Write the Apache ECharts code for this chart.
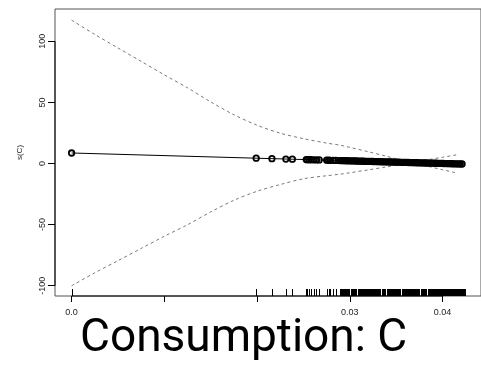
<!DOCTYPE html>
<html>
<head>
<meta charset="utf-8">
<script src="https://cdn.jsdelivr.net/npm/echarts@6/dist/echarts.min.js"></script>
<style>
  html, body { margin: 0; padding: 0; background: #fff; }
  #chart { width: 481px; height: 365px; }
</style>
</head>
<body>
<div id="chart"></div>
<script>
// Axis ranges and ticks
const xMin = -0.00179, xMax = 0.04414;
const yMin = -108.4, yMax = 126.4;
const xTickValues = [0, 0.01, 0.02, 0.03, 0.04];
const xTickLabels = ['0.0', '', '', '0.03', '0.04'];
const yTickValues = [-100, -50, 0, 50, 100];
const yTickLabels = ['-100', '-50', '0', '50', '100'];

// Fitted smooth s(C) evaluated at the observations
const pointX = [0.0000, 0.0199, 0.0216, 0.0231, 0.0238, 0.0253, 0.0254, 0.0256, 0.0258, 0.0261,
  0.0264, 0.0267, 0.0275, 0.0277, 0.0279, 0.0282, 0.0285,
  0.0289, 0.0291, 0.0293, 0.0295, 0.0297, 0.0299, 0.0301, 0.0303, 0.0305, 0.0307,
  0.0309, 0.0311, 0.0313, 0.0315, 0.0317, 0.0319, 0.0321, 0.0323, 0.0325, 0.0327,
  0.0329, 0.0331, 0.0333, 0.0335, 0.0337, 0.0339, 0.0341, 0.0343, 0.0345, 0.0347,
  0.0349, 0.0351, 0.0353, 0.0355, 0.0357, 0.0359, 0.0361, 0.0363, 0.0365, 0.0367,
  0.0369, 0.0371, 0.0373, 0.0375, 0.0377, 0.0379, 0.0381, 0.0383, 0.0385, 0.0387,
  0.0389, 0.0391, 0.0393, 0.0395, 0.0397, 0.0399, 0.0401, 0.0403, 0.0405, 0.0407,
  0.0409, 0.0411, 0.0413, 0.0415, 0.0417, 0.0419, 0.0421];
const pointY = [8.60, 4.34, 3.98, 3.66, 3.51, 3.19, 3.16, 3.12, 3.08, 3.01,
  2.95, 2.89, 2.72, 2.67, 2.63, 2.57, 2.50,
  2.42, 2.37, 2.33, 2.29, 2.24, 2.20, 2.16, 2.12, 2.07, 2.03,
  1.99, 1.94, 1.90, 1.86, 1.82, 1.77, 1.73, 1.69, 1.65, 1.60,
  1.56, 1.52, 1.47, 1.43, 1.39, 1.35, 1.30, 1.26, 1.22, 1.17,
  1.13, 1.09, 1.05, 1.00, 0.96, 0.92, 0.87, 0.83, 0.79, 0.75,
  0.70, 0.66, 0.62, 0.57, 0.53, 0.49, 0.45, 0.40, 0.36, 0.32,
  0.28, 0.23, 0.19, 0.15, 0.10, 0.06, 0.02, -0.02, -0.07, -0.11,
  -0.15, -0.20, -0.24, -0.28, -0.32, -0.37, -0.41];

// Confidence band (fit +/- 2 se)
const bandX = [0, 0.0025, 0.005, 0.0075, 0.01, 0.0125, 0.015, 0.0175, 0.02, 0.0225,
  0.025, 0.0275, 0.029, 0.03, 0.032, 0.034, 0.036, 0.038, 0.040, 0.0415];
const bandUpper = [117.3, 105.6, 94.5, 83.5, 72.5, 61.9, 50.4, 39.9, 31.3, 24.8,
  20.3, 16.7, 14.9, 13.2, 9.6, 5.8, 1.9, -1.6, -5.1, -7.7];
const bandLower = [-100.1, -89.4, -79.5, -69.5, -59.5, -50.1, -39.6, -30.1, -22.7, -17.2,
  -12.5, -10.0, -8.7, -7.6, -5.2, -2.7, -0.1, 2.6, 5.1, 7.1];

// Observed consumption values (rug)
const rugX = [0.0000, 0.0199, 0.0216, 0.0231, 0.0238, 0.0253, 0.0254, 0.0256, 0.0258, 0.0261,
  0.0264, 0.0267, 0.0275, 0.0277, 0.0279, 0.0282, 0.0285,
  0.0289, 0.0290, 0.0291, 0.0292, 0.0293, 0.0294, 0.0295, 0.0296, 0.0297, 0.0298, 0.0299,
  0.0301, 0.0302, 0.0303, 0.0304, 0.0305, 0.0306, 0.0307, 0.0309, 0.0310,
  0.0311, 0.0312, 0.0313, 0.0314, 0.0315, 0.0316, 0.0317, 0.0318, 0.0319, 0.0320,
  0.0321, 0.0322, 0.0323, 0.0324, 0.0325, 0.0326, 0.0327, 0.0328, 0.0329, 0.0330,
  0.0331, 0.0332, 0.0333, 0.0335, 0.0336, 0.0337, 0.0338, 0.0340,
  0.0341, 0.0342, 0.0343, 0.0344, 0.0345, 0.0346, 0.0348, 0.0349, 0.0350,
  0.0351, 0.0352, 0.0353, 0.0354, 0.0356, 0.0357, 0.0358, 0.0359, 0.0360,
  0.0361, 0.0362, 0.0363, 0.0364, 0.0365, 0.0366, 0.0367, 0.0368, 0.0369, 0.0370,
  0.0371, 0.0372, 0.0373, 0.0374, 0.0375, 0.0377, 0.0378, 0.0379, 0.0380,
  0.0381, 0.0382, 0.0384, 0.0385, 0.0386, 0.0387, 0.0388, 0.0389, 0.0390,
  0.0391, 0.0392, 0.0393, 0.0394, 0.0395, 0.0396, 0.0397, 0.0398, 0.0399, 0.0400,
  0.0401, 0.0402, 0.0403, 0.0404, 0.0405, 0.0406, 0.0407, 0.0408, 0.0409, 0.0410,
  0.0411, 0.0412, 0.0413, 0.0414, 0.0415, 0.0416, 0.0417, 0.0418, 0.0419, 0.0420,
  0.0421, 0.0422, 0.0423, 0.0424];

const zip = (xs, ys) => xs.map((x, i) => [x, ys[i]]);
const labelFont = 'Liberation Sans';

const chart = echarts.init(document.getElementById('chart'), null, { renderer: 'canvas' });
chart.setOption({
  animation: false,
  backgroundColor: '#ffffff',
  grid: {
    left: 55, right: -10, top: 9, bottom: 69,
    show: true, borderColor: '#555', borderWidth: 1, backgroundColor: 'transparent'
  },
  xAxis: {
    type: 'value', min: xMin, max: xMax,
    splitLine: { show: false },
    axisLine: { show: false, onZero: false },
    axisTick: {
      show: true, inside: false, length: 6,
      customValues: xTickValues,
      lineStyle: { color: '#000', width: 1 }
    },
    axisLabel: {
      show: true, margin: 12, fontSize: 9, color: '#222', fontFamily: labelFont,
      customValues: xTickValues.filter((v, i) => xTickLabels[i] !== ''),
      formatter: v => xTickLabels[xTickValues.findIndex(t => Math.abs(t - v) < 1e-9)]
    }
  },
  yAxis: {
    type: 'value', min: yMin, max: yMax,
    name: 's(C)', nameLocation: 'middle', nameGap: 31, nameRotate: 90,
    nameTextStyle: { fontSize: 8, color: '#222', fontFamily: labelFont },
    splitLine: { show: false },
    axisLine: { show: false, onZero: false },
    axisTick: {
      show: true, inside: false, length: 7,
      customValues: yTickValues,
      lineStyle: { color: '#000', width: 1 }
    },
    axisLabel: {
      show: true, rotate: 90, margin: 8, fontSize: 9, color: '#222', fontFamily: labelFont,
      customValues: yTickValues,
      formatter: v => yTickLabels[yTickValues.indexOf(v)]
    }
  },
  graphic: [{
    type: 'text', left: 80, top: 316,
    style: { text: 'Consumption: C', font: '46px Roboto', fill: '#000' }
  }],
  series: [
    {
      // axis lines spanning the first to last tick
      type: 'line', silent: true, clip: false, symbol: 'none',
      data: [[xTickValues[0], yMin], [xTickValues[xTickValues.length - 1], yMin]],
      lineStyle: { color: '#000', width: 1 }
    },
    {
      type: 'line', silent: true, clip: false, symbol: 'none',
      data: [[xMin, yTickValues[0]], [xMin, yTickValues[yTickValues.length - 1]]],
      lineStyle: { color: '#000', width: 1 }
    },
    {
      name: 'upper', type: 'line', silent: true, symbol: 'none', smooth: 0.3,
      data: zip(bandX, bandUpper),
      lineStyle: { color: '#555', width: 0.8, type: [3, 3] }
    },
    {
      name: 'lower', type: 'line', silent: true, symbol: 'none', smooth: 0.3,
      data: zip(bandX, bandLower),
      lineStyle: { color: '#555', width: 0.8, type: [3, 3] }
    },
    {
      name: 'fit', type: 'line', silent: true,
      data: zip(pointX, pointY),
      symbol: 'circle', symbolSize: 5.5, showAllSymbol: true,
      itemStyle: { color: 'rgba(0,0,0,0)', borderColor: '#000', borderWidth: 1.8 },
      lineStyle: { color: '#000', width: 1 }
    },
    {
      // rug: one short vertical stroke per observation along the x axis
      name: 'rug', type: 'custom', silent: true, clip: false,
      data: rugX.map(x => [x, yMin]),
      renderItem: (params, api) => {
        const p = api.coord([api.value(0), api.value(1)]);
        const x = Math.round(p[0]) + 0.5;
        return {
          type: 'line',
          shape: { x1: x, y1: p[1], x2: x, y2: p[1] - 7 },
          style: { stroke: '#000', lineWidth: 1 }
        };
      }
    }
  ]
});
</script>
</body>
</html>
